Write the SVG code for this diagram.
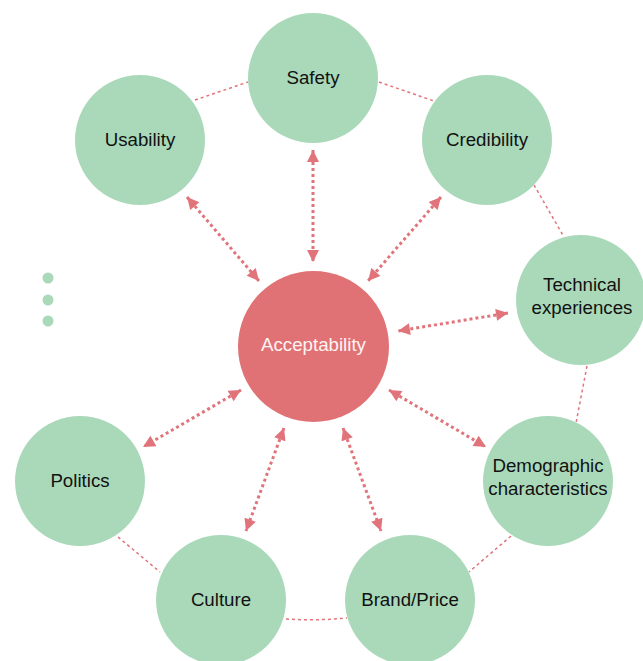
<svg xmlns="http://www.w3.org/2000/svg" width="643" height="661" viewBox="0 0 643 661">
<defs>
<style>
.node{fill:#aad9ba}
.lbl{font-family:"Liberation Sans",Arial,sans-serif;font-size:18.7px;fill:#111;text-anchor:middle}
.ring{stroke:#e0747a;stroke-width:1.5;stroke-dasharray:3,3;fill:none}
.arr{stroke:#e0747a;stroke-width:3;stroke-dasharray:3,3;fill:none;marker-start:url(#ah);marker-end:url(#ah)}
</style>
<marker id="ah" viewBox="0 0 10 10" refX="10" refY="5" markerWidth="4.3" markerHeight="4" orient="auto-start-reverse" markerUnits="strokeWidth">
<path d="M0,0 L10,5 L0,10 z" fill="#e0747a"/>
</marker>
</defs>
<rect width="643" height="661" fill="#fff"/>
<g id="connectors">
<path class="ring" d="M195,100 L248,82"/>
<path class="ring" d="M379,82 L434,101"/>
<path class="ring" d="M534,185 L564,237"/>
<path class="ring" d="M587,366 L576,423"/>
<path class="ring" d="M511,536 L469,572"/>
<path class="ring" d="M286,619 Q316,621 347,618"/>
<path class="ring" d="M118,537 L160,572"/>
<line class="arr" x1="187" y1="197" x2="259" y2="281"/>
<line class="arr" x1="313" y1="150" x2="313" y2="262"/>
<line class="arr" x1="441" y1="197" x2="368" y2="281"/>
<line class="arr" x1="508" y1="313" x2="398" y2="331"/>
<line class="arr" x1="389" y1="390" x2="486" y2="447"/>
<line class="arr" x1="343" y1="428" x2="381" y2="531"/>
<line class="arr" x1="284" y1="428" x2="246" y2="531"/>
<line class="arr" x1="241" y1="390" x2="143" y2="447"/>
</g>
<g id="safety"><circle class="node" cx="313" cy="78" r="65"/><text class="lbl" x="313" y="84">Safety</text></g>
<g id="usability"><circle class="node" cx="140" cy="140" r="65"/><text class="lbl" x="140" y="146">Usability</text></g>
<g id="credibility"><circle class="node" cx="487" cy="140" r="65"/><text class="lbl" x="487" y="146">Credibility</text></g>
<g id="technical"><circle class="node" cx="581" cy="300" r="65"/><text class="lbl" x="582" y="291">Technical</text><text class="lbl" x="582" y="314">experiences</text></g>
<g id="demographic"><circle class="node" cx="548" cy="481" r="65"/><text class="lbl" x="548" y="472">Demographic</text><text class="lbl" x="548" y="495">characteristics</text></g>
<g id="brand"><circle class="node" cx="410" cy="600" r="65"/><text class="lbl" x="410" y="606">Brand/Price</text></g>
<g id="culture"><circle class="node" cx="221" cy="600" r="65"/><text class="lbl" x="221" y="606">Culture</text></g>
<g id="politics"><circle class="node" cx="80" cy="481" r="65"/><text class="lbl" x="80" y="487">Politics</text></g>
<g id="acceptability"><circle cx="313.5" cy="346.5" r="75.5" fill="#e07276"/><text class="lbl" x="313.5" y="351" style="fill:#fff3f3">Acceptability</text></g>
<g id="more">
<circle class="node" cx="48" cy="278" r="5.5"/>
<circle class="node" cx="48" cy="300" r="5.5"/>
<circle class="node" cx="48" cy="321" r="5.5"/>
</g>
</svg>
